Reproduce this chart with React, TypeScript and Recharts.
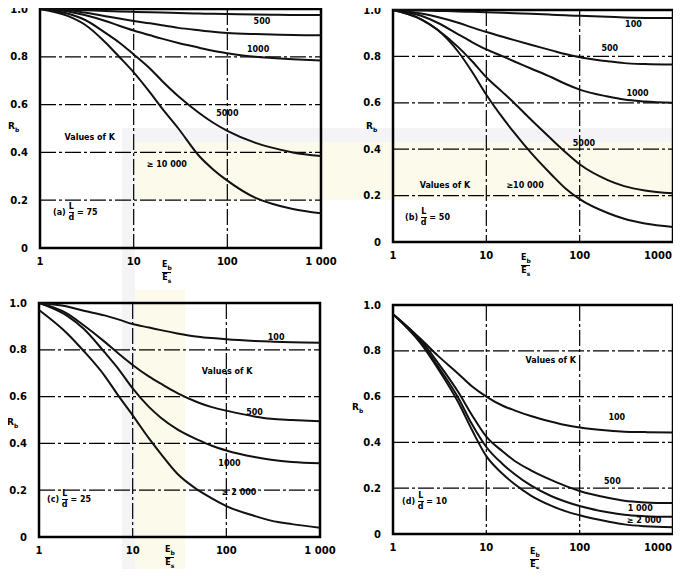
import type { ReactNode } from 'react';
import { CartesianGrid, Line, LineChart, ReferenceArea, ReferenceDot, XAxis, YAxis } from 'recharts';

// E_b / E_s values at which every curve is read
const ratios = [1, 2, 3, 5, 7, 10, 15, 20, 30, 50, 70, 100, 200, 300, 500, 1000];
const xTicks = [1, 10, 100, 1000];
const yTicks = [0, 0.2, 0.4, 0.6, 0.8, 1.0];
const yTickLabels = ['0', '0.2', '0.4', '0.6', '0.8', '1.0'];

// (a) L/d = 75
const a100 = [1, 0.997, 0.995, 0.992, 0.99, 0.988, 0.986, 0.985, 0.983, 0.981, 0.98, 0.979, 0.977, 0.976, 0.975, 0.975];
const a500 = [1, 0.995, 0.985, 0.97, 0.96, 0.95, 0.94, 0.932, 0.921, 0.911, 0.905, 0.9, 0.895, 0.893, 0.891, 0.89];
const a1000 = [1, 0.99, 0.975, 0.95, 0.93, 0.91, 0.89, 0.876, 0.858, 0.838, 0.825, 0.815, 0.8, 0.795, 0.79, 0.785];
const a5000 = [1, 0.98, 0.955, 0.9, 0.86, 0.81, 0.75, 0.7, 0.635, 0.565, 0.525, 0.49, 0.44, 0.42, 0.4, 0.385];
const a10000 = [1, 0.97, 0.935, 0.86, 0.8, 0.735, 0.65, 0.585, 0.5, 0.385, 0.33, 0.282, 0.21, 0.185, 0.163, 0.145];

// (b) L/d = 50
const b100 = [1, 0.998, 0.996, 0.994, 0.992, 0.99, 0.988, 0.986, 0.984, 0.98, 0.977, 0.975, 0.971, 0.968, 0.966, 0.965];
const b500 = [1, 0.985, 0.97, 0.945, 0.925, 0.905, 0.885, 0.87, 0.85, 0.826, 0.81, 0.796, 0.779, 0.771, 0.767, 0.765];
const b1000 = [1, 0.975, 0.945, 0.895, 0.862, 0.83, 0.8, 0.778, 0.748, 0.71, 0.682, 0.657, 0.627, 0.614, 0.606, 0.6];
const b5000 = [1, 0.96, 0.915, 0.84, 0.78, 0.71, 0.645, 0.598, 0.528, 0.443, 0.388, 0.335, 0.267, 0.241, 0.222, 0.21];
const b10000 = [1, 0.96, 0.915, 0.82, 0.735, 0.635, 0.535, 0.47, 0.385, 0.29, 0.232, 0.185, 0.125, 0.1, 0.08, 0.065];

// (c) L/d = 25
const c100 = [1, 0.985, 0.967, 0.947, 0.93, 0.91, 0.895, 0.884, 0.87, 0.856, 0.85, 0.845, 0.838, 0.835, 0.832, 0.83];
const c500 = [1, 0.955, 0.905, 0.835, 0.785, 0.735, 0.685, 0.655, 0.615, 0.575, 0.555, 0.54, 0.515, 0.505, 0.5, 0.495];
const c1000 = [1, 0.945, 0.89, 0.79, 0.72, 0.635, 0.555, 0.51, 0.46, 0.415, 0.39, 0.37, 0.342, 0.33, 0.32, 0.315];
const c2000 = [0.97, 0.87, 0.795, 0.69, 0.605, 0.52, 0.42, 0.355, 0.27, 0.2, 0.165, 0.132, 0.09, 0.07, 0.055, 0.04];

// (d) L/d = 10
const d100 = [0.96, 0.85, 0.78, 0.7, 0.645, 0.6, 0.56, 0.54, 0.515, 0.49, 0.476, 0.465, 0.452, 0.447, 0.445, 0.443];
const d500 = [0.96, 0.845, 0.75, 0.62, 0.52, 0.425, 0.36, 0.32, 0.278, 0.235, 0.21, 0.188, 0.158, 0.145, 0.138, 0.135];
const d1000 = [0.96, 0.835, 0.735, 0.595, 0.48, 0.38, 0.305, 0.262, 0.212, 0.165, 0.142, 0.122, 0.095, 0.084, 0.078, 0.075];
const d2000 = [0.96, 0.83, 0.725, 0.575, 0.455, 0.34, 0.262, 0.218, 0.168, 0.123, 0.1, 0.082, 0.055, 0.042, 0.034, 0.03];

type Tag = { text: string; x: number; y: number };

const aTags: Tag[] = [
  { text: '500', x: 234, y: 0.95 },
  { text: '1000', x: 213, y: 0.83 },
  { text: '5000', x: 100, y: 0.565 },
  { text: 'Values of K', x: 3.4, y: 0.465 },
  { text: '≥ 10 000', x: 22.6, y: 0.35 },
];
const bTags: Tag[] = [
  { text: '100', x: 377, y: 0.94 },
  { text: '500', x: 210, y: 0.835 },
  { text: '1000', x: 417, y: 0.64 },
  { text: '5000', x: 111, y: 0.425 },
  { text: 'Values of K', x: 3.6, y: 0.245 },
  { text: '≥10 000', x: 26, y: 0.245 },
];
const cTags: Tag[] = [
  { text: '100', x: 340, y: 0.855 },
  { text: 'Values of K', x: 102, y: 0.71 },
  { text: '500', x: 200, y: 0.535 },
  { text: '1000', x: 108, y: 0.315 },
  { text: '≥ 2 000', x: 137, y: 0.19 },
];
const dTags: Tag[] = [
  { text: 'Values of K', x: 49, y: 0.76 },
  { text: '100', x: 250, y: 0.51 },
  { text: '500', x: 224, y: 0.23 },
  { text: '1 000', x: 445, y: 0.115 },
  { text: '≥ 2 000', x: 490, y: 0.06 },
];

const font = 'DejaVu Sans, sans-serif';

function Frac({ top, bottom, size = 8 }: { top: ReactNode; bottom: ReactNode; size?: number }) {
  return (
    <span style={{ display: 'inline-flex', flexDirection: 'column', alignItems: 'center', verticalAlign: 'middle', lineHeight: 1 }}>
      <span style={{ fontSize: size, paddingBottom: 1 }}>{top}</span>
      <span style={{ fontSize: size, borderTop: '1px solid #000', paddingTop: 1 }}>{bottom}</span>
    </span>
  );
}

function Panel(props: {
  left: number;
  top: number;
  width: number;
  height: number;
  x0: number;
  x1: number;
  y0: number;
  y1: number;
  series: number[][];
  tags: Tag[];
  thousand: string;
  lastShift: number;
  tag: string;
  ld: string;
  note: [number, number];
  rb: [number, number];
  eb: [number, number];
}) {
  const { left, top, width, height, x0, x1, y0, y1, series, tags } = props;
  const rows = ratios.map((r, i) => {
    const row: Record<string, number> = { x: r };
    series.forEach((s, j) => (row['k' + j] = s[i]));
    return row;
  });
  const xAxisH = 30;
  const tickStyle = { fontSize: 10, fontWeight: 700, fill: '#000', fontFamily: font };
  const renderXTick = (p: any) => {
    const v = p.payload.value;
    return (
      <text x={p.x + (v === 1000 ? props.lastShift : 0)} y={p.y} dy="0.71em" textAnchor="middle" {...tickStyle}>
        {v === 1000 ? props.thousand : String(v)}
      </text>
    );
  };
  return (
    <>
      <div style={{ position: 'absolute', left, top }}>
        <LineChart
          width={width}
          height={height}
          data={rows}
          margin={{ top: y0 - top, right: left + width - x1, bottom: top + height - y1 - xAxisH, left: 0 }}
        >
          <CartesianGrid stroke="#000" strokeWidth={1.2} strokeDasharray="16 3 3 3" />
          <XAxis
            dataKey="x"
            type="number"
            scale="log"
            domain={[1, 1000]}
            ticks={xTicks}
            allowDataOverflow
            height={xAxisH}
            axisLine={false}
            tickLine={false}
            tickMargin={4}
            tick={renderXTick}
          />
          <YAxis
            type="number"
            domain={[0, 1]}
            ticks={yTicks}
            width={x0 - left}
            axisLine={false}
            tickLine={false}
            tickMargin={6}
            tick={tickStyle}
            tickFormatter={(v: number) => yTickLabels[yTicks.indexOf(v)]}
          />
          {series.map((_, j) => (
            <Line
              key={j}
              dataKey={'k' + j}
              type="monotone"
              stroke="#111"
              strokeWidth={2}
              dot={false}
              isAnimationActive={false}
            />
          ))}
          <ReferenceArea x1={1} x2={1000} y1={0} y2={1} fill="none" stroke="#000" strokeWidth={2.5} ifOverflow="visible" />
          {tags.map((t) => (
            <ReferenceDot
              key={t.text}
              x={t.x}
              y={t.y}
              r={1}
              fill="none"
              stroke="none"
              label={{ value: t.text, position: 'center', fontSize: 8, fontWeight: 700, fill: '#000', fontFamily: font }}
            />
          ))}
        </LineChart>
      </div>
      <div style={{ position: 'absolute', left: props.note[0], top: props.note[1], fontSize: 8, fontWeight: 700, fontFamily: font, whiteSpace: 'nowrap' }}>
        ({props.tag}) <Frac top="L" bottom="d" /> = {props.ld}
      </div>
      <div style={{ position: 'absolute', left: props.rb[0], top: props.rb[1], fontSize: 9, fontWeight: 700, fontFamily: font, lineHeight: 1 }}>
        R<sub style={{ fontSize: 6 }}>b</sub>
      </div>
      <div style={{ position: 'absolute', left: props.eb[0], top: props.eb[1], fontWeight: 700, fontFamily: font }}>
        <Frac top={<>E<sub style={{ fontSize: 6 }}>b</sub></>} bottom={<>E<sub style={{ fontSize: 6 }}>s</sub></>} size={8} />
      </div>
    </>
  );
}

export default function App() {
  return (
    <div style={{ position: 'relative', width: 681, height: 577, margin: -8, background: '#fff', overflow: 'hidden' }}>
      <div style={{ position: 'absolute', left: 122, top: 128, width: 559, height: 14, background: '#f4f4f6' }} />
      <div style={{ position: 'absolute', left: 135, top: 142, width: 546, height: 58, background: '#fcfaea' }} />
      <div style={{ position: 'absolute', left: 122, top: 128, width: 13, height: 449, background: '#f4f4f6' }} />
      <div style={{ position: 'absolute', left: 135, top: 290, width: 50, height: 287, background: '#fcfaea' }} />
      <Panel
        left={0} top={0} width={340} height={290} x0={40} x1={321} y0={9} y1={248}
        series={[a100, a500, a1000, a5000, a10000]} tags={aTags} thousand="1 000" lastShift={0}
        tag="a" ld="75" note={[53, 203]} rb={[8, 122]} eb={[162, 261]}
      />
      <Panel
        left={340} top={0} width={341} height={290} x0={393} x1={673} y0={10} y1={242}
        series={[b100, b500, b1000, b5000, b10000]} tags={bTags} thousand="1000" lastShift={-7}
        tag="b" ld="50" note={[405, 208]} rb={[366, 122]} eb={[521, 254]}
      />
      <Panel
        left={0} top={290} width={340} height={287} x0={39} x1={320} y0={303} y1={537}
        series={[c100, c500, c1000, c2000]} tags={cTags} thousand="1 000" lastShift={0}
        tag="c" ld="25" note={[47, 490]} rb={[7, 418]} eb={[165, 546]}
      />
      <Panel
        left={340} top={290} width={341} height={287} x0={393} x1={673} y0={305} y1={534}
        series={[d100, d500, d1000, d2000]} tags={dTags} thousand="1000" lastShift={-7}
        tag="d" ld="10" note={[402, 492]} rb={[352, 403]} eb={[530, 548]}
      />
    </div>
  );
}
